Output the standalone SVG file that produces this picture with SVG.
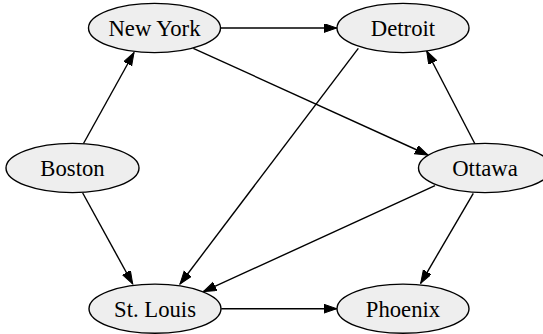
<svg xmlns="http://www.w3.org/2000/svg" width="543" height="334" viewBox="0 0 543 334">
  <style>
    .node ellipse { fill: #eeeeee; stroke: #000000; stroke-width: 1.4; }
    .node text { font-family: "Liberation Serif", "Times New Roman", serif; font-size: 22.7px; text-anchor: middle; fill: #000000; }
    .edge { stroke: #000000; stroke-width: 1.4; fill: none; marker-end: url(#arrow); }
  </style>
  <defs>
    <marker id="arrow" markerUnits="userSpaceOnUse" markerWidth="14" markerHeight="10" refX="13" refY="4.5" orient="auto">
      <path d="M0,0 L13,4.5 L0,9 Z" fill="#000000" stroke="#000000" stroke-width="1"/>
    </marker>
  </defs>
  <rect width="543" height="334" fill="#ffffff"/>

  <g id="edges">
    <line class="edge" x1="220.7" y1="28" x2="336.7" y2="28"/>
    <line class="edge" x1="83.5" y1="143.5" x2="134" y2="52.5"/>
    <line class="edge" x1="82.7" y1="193" x2="132.7" y2="284"/>
    <line class="edge" x1="193.3" y1="48.3" x2="428" y2="155"/>
    <line class="edge" x1="358.3" y1="48.3" x2="180" y2="284"/>
    <line class="edge" x1="475" y1="144" x2="426.7" y2="51"/>
    <line class="edge" x1="435" y1="185.7" x2="203.3" y2="291.7"/>
    <line class="edge" x1="473.3" y1="193.3" x2="420.7" y2="283.3"/>
    <line class="edge" x1="221.3" y1="308.7" x2="336.7" y2="308.7"/>
  </g>

  <g id="new-york" class="node">
    <ellipse cx="154.5" cy="28" rx="66" ry="24.6"/>
    <text x="154.5" y="36">New York</text>
  </g>
  <g id="detroit" class="node">
    <ellipse cx="403" cy="28" rx="66" ry="24.6"/>
    <text x="403" y="36">Detroit</text>
  </g>
  <g id="boston" class="node">
    <ellipse cx="72.5" cy="168" rx="66.5" ry="24.6"/>
    <text x="72.5" y="176">Boston</text>
  </g>
  <g id="ottawa" class="node">
    <ellipse cx="485" cy="168" rx="66.5" ry="24.6"/>
    <text x="485" y="176">Ottawa</text>
  </g>
  <g id="st-louis" class="node">
    <ellipse cx="155" cy="308.7" rx="66" ry="24.6"/>
    <text x="155" y="316.7">St. Louis</text>
  </g>
  <g id="phoenix" class="node">
    <ellipse cx="403" cy="308.7" rx="66" ry="24.6"/>
    <text x="403" y="316.7">Phoenix</text>
  </g>
</svg>
